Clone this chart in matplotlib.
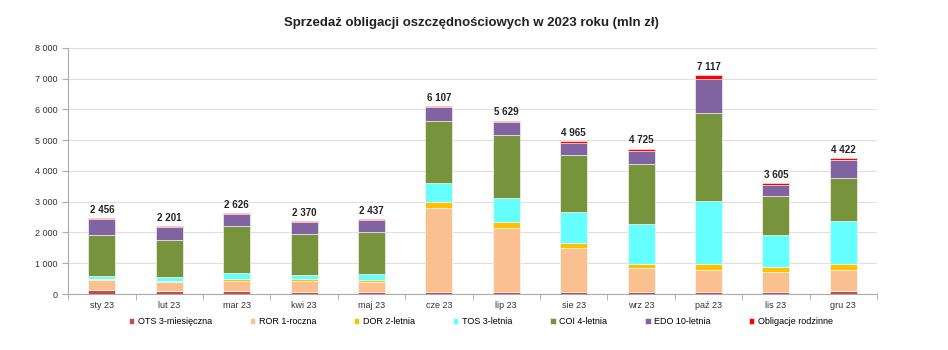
import numpy as np
import matplotlib.pyplot as plt
from matplotlib.ticker import FuncFormatter, MultipleLocator

plt.rcParams.update({
    "font.family": ["Liberation Sans", "DejaVu Sans"],
    "font.size": 7,
})

months = ["sty 23", "lut 23", "mar 23", "kwi 23", "maj 23", "cze 23",
          "lip 23", "sie 23", "wrz 23", "paź 23", "lis 23", "gru 23"]

ots = [130, 95, 85, 65, 65, 65, 65, 65, 65, 55, 75, 85]
ror = [320, 305, 350, 370, 335, 2720, 2085, 1445, 795, 740, 640, 710]
dor = [50, 35, 65, 45, 55, 215, 195, 155, 110, 185, 165, 175]
tos = [90, 120, 185, 140, 185, 600, 780, 985, 1305, 2030, 1035, 1390]
coi = [1330, 1200, 1510, 1335, 1370, 2040, 2045, 1880, 1965, 2890, 1285, 1400]
edo = [510, 410, 390, 370, 380, 435, 415, 390, 425, 1090, 350, 600]
rodz = [26, 36, 41, 45, 47, 32, 44, 45, 60, 127, 55, 62]
totals = [2456, 2201, 2626, 2370, 2437, 6107, 5629, 4965, 4725, 7117, 3605, 4422]

series = [
    ("OTS 3-miesięczna", ots, "#C0504D"),
    ("ROR 1-roczna", ror, "#FAC090"),
    ("DOR 2-letnia", dor, "#FFC000"),
    ("TOS 3-letnia", tos, "#66FFFF"),
    ("COI 4-letnia", coi, "#77933C"),
    ("EDO 10-letnia", edo, "#8064A2"),
    ("Obligacje rodzinne", rodz, "#FF0000"),
]

fig = plt.figure(figsize=(9.48, 3.5), dpi=100)
ax = fig.add_axes([0.072, 0.16, 0.853, 0.703])

x = np.arange(len(months))
bottom = np.zeros(len(months))
for name, vals, col in series:
    ax.bar(x, vals, bottom=bottom, width=0.4, color=col, label=name,
           edgecolor="white", linewidth=0.4, zorder=3)
    bottom += np.array(vals)

fmt = lambda v: f"{int(v):,}".replace(",", " ")
for xi, t in zip(x, totals):
    ax.text(xi, t + 110, fmt(t), ha="center", va="bottom",
            fontsize=7, fontweight="bold", color="#222222")

ax.set_ylim(0, 8000)
ax.set_xlim(-0.5, len(months) - 0.5)
ax.yaxis.set_major_locator(MultipleLocator(1000))
ax.yaxis.set_major_formatter(FuncFormatter(lambda v, p: fmt(v)))
ax.grid(axis="y", color="#e0e0e0", lw=0.8, zorder=0)

ax.set_xticks(x)
ax.set_xticklabels(months)
ax.set_xticks(np.arange(-0.5, len(months)), minor=True)
ax.tick_params(axis="x", which="major", length=0, pad=5, labelsize=6.5, colors="#333333")
ax.tick_params(axis="x", which="minor", length=4, color="#aaaaaa")
ax.tick_params(axis="y", length=4, color="#aaaaaa", labelsize=6.5, labelcolor="#333333")

for s in ["top", "right"]:
    ax.spines[s].set_visible(False)
for s in ["left", "bottom"]:
    ax.spines[s].set_color("#aaaaaa")

fig.text(0.497, 0.935, "Sprzedaż obligacji oszczędnościowych w 2023 roku (mln zł)",
         ha="center", va="center", fontsize=9.5, fontweight="bold", color="#222222")

ax.legend(loc="upper center", bbox_to_anchor=(0.51, -0.06), ncol=7, frameon=False,
          fontsize=6.5, handlelength=0.6, handleheight=0.6, columnspacing=4.2,
          handletextpad=0.4)

fig.savefig("out.png", dpi=100)
